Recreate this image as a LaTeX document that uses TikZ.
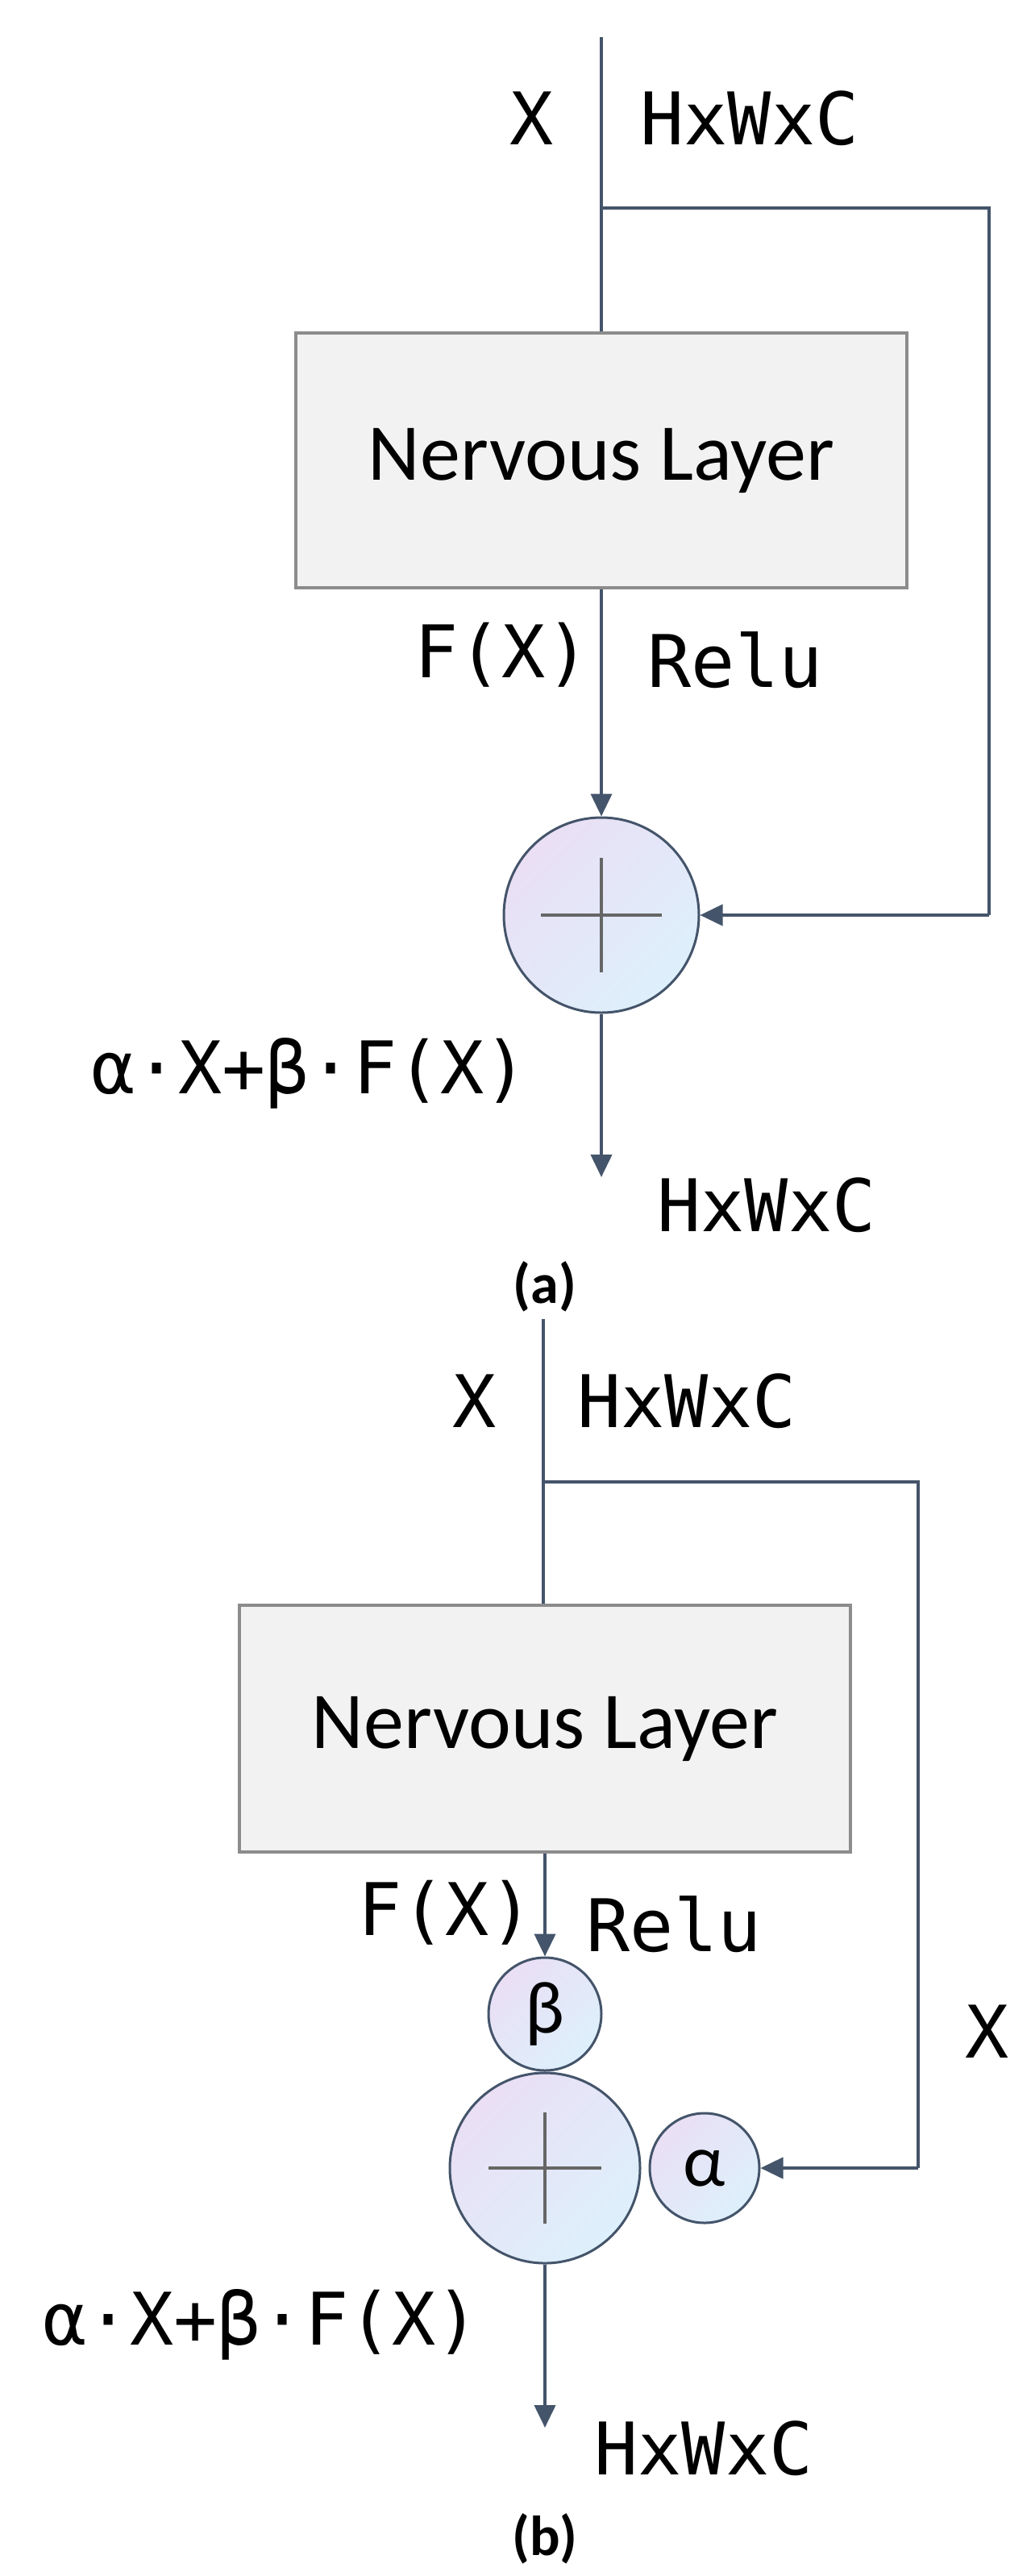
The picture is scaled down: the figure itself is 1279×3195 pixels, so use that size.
\documentclass[tikz,border=0pt]{standalone}
\usepackage{fontspec}
\setmainfont{Carlito}
\newfontfamily\monof{DejaVu Sans Mono}
\usetikzlibrary{arrows.meta}
\definecolor{ln}{HTML}{44546A}
\definecolor{bxf}{HTML}{F2F2F2}
\definecolor{bxd}{HTML}{8C8C8C}
\definecolor{cA}{HTML}{EADFF5}
\definecolor{cB}{HTML}{DDF0FB}
\begin{document}
\begin{tikzpicture}[x=0.5pt,y=-0.5pt,
  wire/.style={draw=ln,line width=2pt},
  arr/.style={wire,-{Triangle[length=14pt,width=13pt]}},
  box/.style={draw=bxd,fill=bxf,line width=2pt,minimum width=379pt,inner sep=0pt,font=\fontsize{50}{56}\selectfont},
  circ/.style={circle,draw=ln,line width=1.5pt,inner sep=0pt,left color=cA,right color=cB,shading angle=45},
  mono/.style={font=\monof\fontsize{45}{50}\selectfont,inner sep=0pt},
  greek/.style={font=\fontsize{46}{50}\selectfont},
  subcap/.style={font=\bfseries\fontsize{35}{40}\selectfont,inner sep=0pt},
  plusl/.style={draw=gray!80!black,line width=2pt}]
\useasboundingbox (0,0) rectangle (1279,3195);
% ---------- (a) ----------
\coordinate (aTop) at (746,46);
\coordinate (aBr) at (746,258);
\coordinate (aR1) at (1227,258);
\coordinate (aR2) at (1227,1135);
\node[box,minimum height=158pt] (aBox) at (746,571) {Nervous Layer};
\node[circ,minimum size=121pt] (aSum) at (746,1135) {};
\draw[plusl] (671,1135) -- (821,1135) (746,1064) -- (746,1206);
\coordinate (aOut) at (746,1460);
\draw[wire] (aTop) -- (aBox.north);
\draw[wire] (aBr) -- (aR1) -- (aR2);
\draw[arr] (aR2) -- (aSum.east);
\draw[arr] (aBox.south) -- (aSum.north);
\draw[arr] (aSum.south) -- (aOut);
\node[mono] (aX) at (660,147) {X};
\node[mono] (aDim) at (930,147) {HxWxC};
\node[mono] (aF) at (623,812) {F(X)};
\node[mono] (aRelu) at (912,819) {Relu};
\node[mono] (aForm) at (384,1331) {α·X+β·F(X)};
\node[mono] (aDim2) at (951,1495) {HxWxC};
\node[subcap] (aCap) at (676,1596) {(a)};
% ---------- (b) ----------
\coordinate (bTop) at (674,1636);
\coordinate (bBr) at (674,1838);
\coordinate (bR1) at (1139,1838);
\coordinate (bR2) at (1139,2689);
\node[box,minimum height=153pt] (bBox) at (676,2144) {Nervous Layer};
\node[circ,minimum size=70pt,greek] (bBeta) at (676,2498) {β};
\node[circ,minimum size=118pt] (bSum) at (676,2689) {};
\draw[plusl] (606,2689) -- (746,2689) (676,2620) -- (676,2758);
\node[circ,minimum size=68pt,greek] (bAlpha) at (874,2689) {α};
\coordinate (bOut) at (676,3011);
\draw[wire] (bTop) -- (bBr) -- (bBox.north -| bTop);
\draw[wire] (bBr) -- (bR1) -- (bR2);
\draw[arr] (bR2) -- (bAlpha.east);
\draw[arr] (bBox.south) -- (bBeta.north);
\draw[arr] (bSum.south) -- (bOut);
\node[mono] (bX) at (589,1738) {X};
\node[mono] (bDim) at (852,1738) {HxWxC};
\node[mono] (bF) at (553,2372) {F(X)};
\node[mono] (bRelu) at (836,2387) {Relu};
\node[mono] (bX2) at (1225,2520) {X};
\node[mono] (bForm) at (324,2883) {α·X+β·F(X)};
\node[mono] (bDim2) at (873,3037) {HxWxC};
\node[subcap] (bCap) at (676,3149) {(b)};
\end{tikzpicture}
\end{document}
